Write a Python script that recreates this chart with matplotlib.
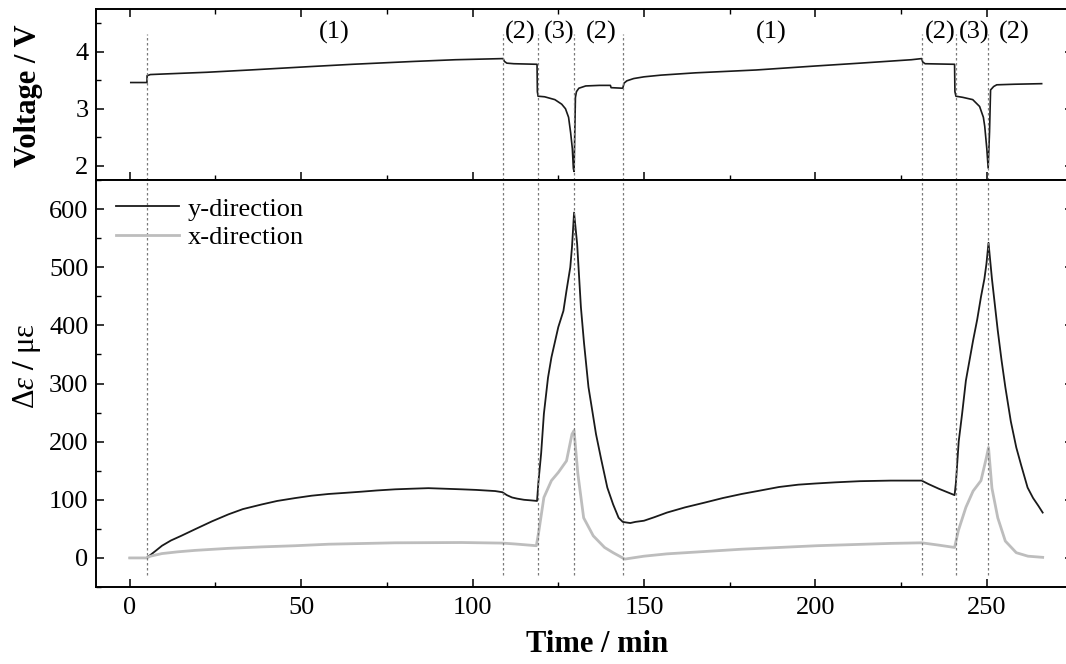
import matplotlib
matplotlib.use("Agg")
import matplotlib.pyplot as plt
from matplotlib.lines import Line2D
from matplotlib.ticker import MultipleLocator

plt.rcParams['font.family'] = ['Liberation Serif', 'DejaVu Serif']
plt.rcParams['mathtext.fontset'] = 'custom'
plt.rcParams['mathtext.rm'] = 'Liberation Serif'
plt.rcParams['mathtext.it'] = 'Liberation Serif:italic'
plt.rcParams['mathtext.bf'] = 'Liberation Serif:bold'

# ---------------- data ----------------
volt_t = [0.3, 5, 5.05, 6, 10, 22.5, 35, 52.7, 65, 82.8, 95, 108.9, 109.3, 110, 112, 118.8,
          118.9, 119.1, 121, 124, 126, 127.1, 128, 128.6, 129.1, 129.4, 129.6,
          130.0, 130.3, 131, 133, 137, 140.2, 140.4, 143.8, 144.2, 145, 147, 150, 155, 165,
          182.7, 200, 213, 228, 231, 231.3, 232, 240.6, 240.7, 241, 243, 245.9, 247.9, 249,
          249.4, 250, 250.4, 250.8, 251.1, 252, 252.9, 258, 266]
volt_v = [3.46, 3.46, 3.58, 3.60, 3.61, 3.64, 3.68, 3.74, 3.78, 3.83, 3.86, 3.88, 3.83, 3.80, 3.79, 3.78,
          3.30, 3.22, 3.21, 3.16, 3.08, 3.00, 2.85, 2.58, 2.30, 1.95, 1.90,
          3.20, 3.30, 3.36, 3.40, 3.41, 3.41, 3.37, 3.36, 3.45, 3.49, 3.53, 3.56, 3.59, 3.63,
          3.68, 3.75, 3.80, 3.86, 3.88, 3.82, 3.79, 3.78, 3.30, 3.22, 3.20, 3.16, 3.04, 2.85,
          2.69, 2.30, 1.96, 2.60, 3.33, 3.39, 3.42, 3.43, 3.44]

ydir_t = [0, 4.9, 6, 7.5, 9.4, 12, 15, 19.1, 24, 28.8, 33, 38.5, 43, 48.3, 53, 58, 63, 67.7, 72,
          77.4, 82, 87.1, 92, 96.8, 101, 106.6, 108.7, 110, 111.5, 113, 115, 117, 118.8,
          119.2, 120, 120.8, 122, 123, 125, 126.5, 127.4, 128.5, 129, 129.6,
          130.5, 131.6, 132.5, 133.8, 135, 136, 137.5, 139.3, 141, 142.6, 143.8, 144.8, 146, 147.5,
          150, 153, 156.7, 162, 167.6, 173, 178.5, 184, 189.4, 195, 200, 205.8, 213, 222, 231,
          233, 236, 240.6, 241, 241.8, 242.8, 243.9, 246, 247.2, 248.3, 249.3, 249.9, 250.5,
          251.5, 253.2, 254.3, 255.4, 257, 258.6, 260, 261.9, 263.5, 265, 266.3]
ydir_v = [0, 0, 5, 12, 21, 30, 38, 49.5, 63, 75, 84, 92, 98, 103, 107, 110, 112, 114, 116,
          118, 119, 120, 119, 118, 117, 115, 113, 108, 104, 102, 100, 99, 98,
          130, 180, 248, 310, 345, 397, 425, 460, 500, 535, 594,
          540, 431, 370, 294, 250, 213, 170, 121, 92, 69, 62, 61, 60, 62,
          64, 70, 78, 87, 95, 103, 110, 116, 122, 126, 128, 130, 132, 133, 133,
          127, 119, 108, 130, 200, 248, 305, 374, 410, 449, 480, 506, 542,
          480, 391, 340, 294, 235, 190, 160, 121, 103, 90, 78]

xdir_t = [0, 4.9, 6, 9.4, 14, 19.1, 28.8, 38.5, 48.3, 58, 77.4, 96.8, 108.7, 112.4, 118.6,
          119.3, 120.8, 123, 125, 127.4, 129, 129.6, 130.7, 132.4, 135.2, 138.5, 141, 144.4,
          150, 156.7, 178.5, 200.4, 222, 231, 236, 240.6, 241.7, 243.9, 246, 248.3, 249.9,
          250.5, 251.5, 253.2, 255.4, 258.6, 262, 266.3]
xdir_v = [0, 0, 3, 7.5, 10.5, 13, 16.5, 19, 21, 23.6, 26, 26.5, 25.5, 24, 21,
          45, 104, 133, 147, 167, 213, 219, 145, 69, 38, 18, 9, -2,
          3, 7, 15, 21, 25, 26, 22, 18, 47, 87, 115, 133, 173,
          190, 120, 69, 29, 9, 3, 1]

phase_lines = [5, 109, 119, 129.6, 144, 231, 241, 250.3]
phase_labels = ['(1)', '(2)', '(3)', '(2)', '(1)', '(2)', '(3)', '(2)']
phase_label_t = [59.7, 114, 125.3, 137.5, 187.1, 236.3, 246.4, 258]

x_ticks = [0, 50, 100, 150, 200, 250]
volt_ticks = [2, 3, 4]
strain_ticks = [0, 100, 200, 300, 400, 500, 600]

# ---------------- figure ----------------
W, H = 1066, 664
fig = plt.figure(figsize=(W / 100, H / 100), dpi=100)

left = 95.5 / W
width = 977.0 / W
ax_top = fig.add_axes([left, (H - 180) / H, width, 171 / H])
ax_bot = fig.add_axes([left, (H - 587) / H, width, 407 / H], sharex=ax_top)

black = '#1a1a1a'
grey = '#bdbdbd'
dotc = '#7a7a7a'

ax_top.plot(volt_t, volt_v, color=black, lw=1.2)
ax_bot.plot(ydir_t, ydir_v, color=black, lw=1.3)
ax_bot.plot(xdir_t, xdir_v, color=grey, lw=2.0)

for t in phase_lines:
    ax_top.plot([t, t], [1.75, 4.32], ls=(0, (2, 2)), color=dotc, lw=0.9)
    ax_bot.plot([t, t], [-30, 650], ls=(0, (2, 2)), color=dotc, lw=0.9)

for lab, t in zip(phase_labels, phase_label_t):
    ax_top.text(t, 0.86, lab, transform=ax_top.get_xaxis_transform(),
                ha='center', va='center', fontsize=19)

ax_top.set_xlim(-10, 275)
ax_top.set_ylim(1.75, 4.75)
ax_bot.set_ylim(-50, 650)

ax_bot.set_xticks(x_ticks)
ax_bot.xaxis.set_minor_locator(MultipleLocator(25))
ax_top.set_yticks(volt_ticks)
ax_top.yaxis.set_minor_locator(MultipleLocator(0.5))
ax_bot.set_yticks(strain_ticks)
ax_bot.yaxis.set_minor_locator(MultipleLocator(50))

for ax in (ax_top, ax_bot):
    for s in ax.spines.values():
        s.set_linewidth(1.4)
    ax.tick_params(which='major', direction='in', length=6, width=1.1, labelsize=19, pad=5)
    ax.tick_params(which='minor', direction='in', length=3.6, width=1.0)
    ax.tick_params(which='both', right=True, labelright=False)

ax_bot.tick_params(axis='x', which='major', pad=7)
ax_top.tick_params(which='both', top=True, labelbottom=False)
ax_bot.tick_params(which='both', top=False)

ax_top.set_ylabel('Voltage / V', fontsize=22, fontweight='bold')
ax_top.yaxis.set_label_coords(-0.054, 0.491)
ax_bot.set_ylabel(r'$\Delta\varepsilon$ $\mathbf{/}$ $\mathrm{\mu\varepsilon}$', fontsize=22)
ax_bot.yaxis.set_label_coords(-0.054, 0.543)
ax_bot.set_xlabel('Time / min', fontsize=22, fontweight='bold')
ax_bot.xaxis.set_label_coords(0.513, -0.106)

handles = [Line2D([], [], color=black, lw=1.3), Line2D([], [], color=grey, lw=2.0)]
ax_bot.legend(handles, ['y-direction', 'x-direction'], loc='upper left',
              bbox_to_anchor=(0.021, 0.958), frameon=False, fontsize=19,
              handlelength=2.4, handletextpad=0.3, labelspacing=0.2,
              borderpad=0, borderaxespad=0)

fig.savefig('out.png', dpi=100)
